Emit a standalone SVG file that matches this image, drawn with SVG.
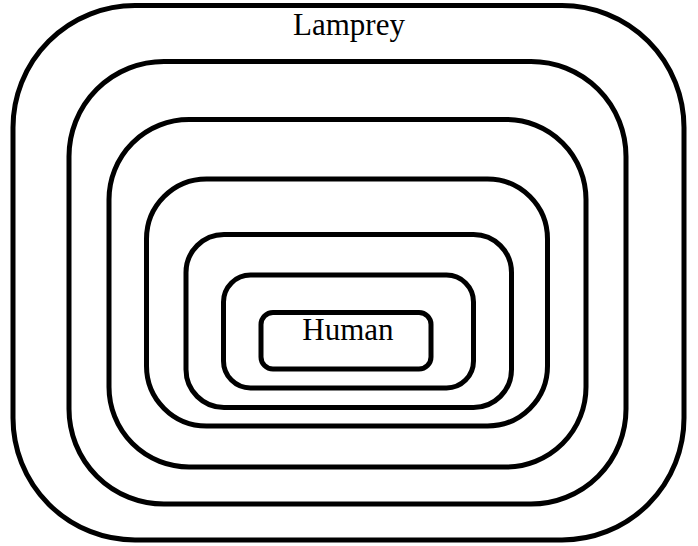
<svg xmlns="http://www.w3.org/2000/svg" width="698" height="546" viewBox="0 0 698 546">
<style>
.r{fill:none;stroke:#000;stroke-width:5}
.t{font-family:"Liberation Serif","Times New Roman",serif;font-size:31px;fill:#000;text-anchor:middle}
</style>
<rect width="698" height="546" fill="#fff"/>
<g id="lamprey"><rect class="r" x="13" y="5.5" width="671" height="534.5" rx="122" ry="122"/><text class="t" x="349" y="35">Lamprey</text></g>
<g id="n2"><rect class="r" x="69" y="61.5" width="557" height="442.5" rx="95" ry="95"/></g>
<g id="n3"><rect class="r" x="109" y="119.5" width="477" height="347.5" rx="80" ry="80"/></g>
<g id="n4"><rect class="r" x="146.5" y="179" width="401" height="247" rx="60" ry="60"/></g>
<g id="n5"><rect class="r" x="186" y="234.5" width="325.5" height="173" rx="38" ry="38"/></g>
<g id="n6"><rect class="r" x="223.5" y="275" width="250" height="113" rx="27" ry="27"/></g>
<g id="human"><rect class="r" x="261" y="312.5" width="170" height="56.5" rx="12" ry="12"/><text class="t" x="348" y="340">Human</text></g>
<g id="connectors"/>
</svg>
